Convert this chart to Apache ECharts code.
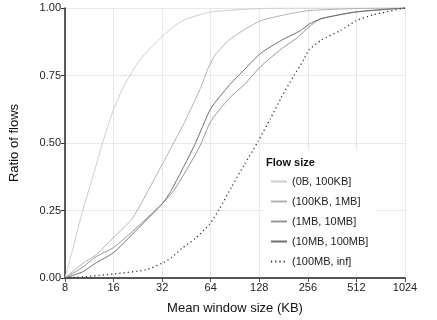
<!DOCTYPE html>
<html>
<head>
<meta charset="utf-8">
<script src="https://cdn.jsdelivr.net/npm/echarts@6/dist/echarts.min.js"></script>
<style>html,body{margin:0;padding:0;background:#fff}#c{width:437px;height:320px}</style>
</head>
<body>
<div id="c"></div>
<script>
// Series names (legend)
var seriesNames = ['(0B, 100KB]', '(100KB, 1MB]', '(1MB, 10MB]', '(10MB, 100MB]', '(100MB, inf]'];
var legendTitle = 'Flow size';
var xTitle = 'Mean window size (KB)';
var yTitle = 'Ratio of flows';

// (0B, 100KB]
var win1 = [8, 8.96, 10.3, 11.56, 14.0, 16, 18.7, 20.9, 23.4, 32, 39.6, 45.6, 64, 128, 256, 1024];
var ratio1 = [0, 0.11, 0.25, 0.35, 0.52, 0.625, 0.715, 0.765, 0.81, 0.895, 0.94, 0.96, 0.985, 0.998, 1, 1];
// (100KB, 1MB]
var win2 = [8, 10.3, 12.3, 16, 20.9, 29, 32, 44.3, 56.4, 61, 68, 82.6, 103.5, 131, 175, 256, 512, 1024];
var ratio2 = [0, 0.054, 0.083, 0.15, 0.22, 0.373, 0.42, 0.58, 0.715, 0.77, 0.825, 0.88, 0.92, 0.953, 0.972, 0.99, 0.998, 1];
// (1MB, 10MB]
var win3 = [8, 10.3, 12.3, 16, 20.9, 32, 37.9, 54, 64, 82.6, 103.5, 131, 175, 220, 260, 308, 512, 1024];
var ratio3 = [0, 0.04, 0.077, 0.113, 0.172, 0.275, 0.325, 0.48, 0.58, 0.663, 0.717, 0.784, 0.848, 0.89, 0.93, 0.96, 0.985, 1];
// (10MB, 100MB]
var win4 = [8, 10.3, 12.3, 16, 20.9, 32, 36.5, 51, 64, 82.6, 103.5, 131, 175, 232, 260, 308, 512, 1024];
var ratio4 = [0, 0.023, 0.054, 0.094, 0.162, 0.275, 0.325, 0.494, 0.627, 0.711, 0.772, 0.833, 0.88, 0.917, 0.94, 0.96, 0.986, 1];
// (100MB, inf]
var win5 = [8, 10.3, 16, 25.3, 32, 36.5, 42.5, 51, 63.1, 72.7, 86.1, 103.5, 126, 150, 174.6, 210, 242, 260, 308, 408, 512, 651, 1024];
var ratio5 = [0, 0.004, 0.015, 0.03, 0.055, 0.075, 0.11, 0.145, 0.2, 0.257, 0.337, 0.42, 0.507, 0.59, 0.667, 0.75, 0.81, 0.845, 0.88, 0.917, 0.953, 0.975, 1];

var wins = [win1, win2, win3, win4, win5];
var ratios = [ratio1, ratio2, ratio3, ratio4, ratio5];
var colors = ['#cdcdcd', '#b2b2b2', '#969696', '#6f6f6f', '#333333'];

function pairs(xs, ys) { return xs.map(function (x, i) { return [x, ys[i]]; }); }

var FONT = 'Liberation Sans';
var series = seriesNames.map(function (n, i) {
  return {
    name: n,
    type: 'line',
    data: pairs(wins[i], ratios[i]),
    symbol: 'none',
    smooth: 0.2,
    z: 2 + i,
    lineStyle: i === 4 ? { color: colors[i], width: 1.3, type: [1.2, 3] } : { color: colors[i], width: 1 },
    itemStyle: { color: colors[i] }
  };
});

var chart = echarts.init(document.getElementById('c'), null, { renderer: 'canvas' });
chart.setOption({
  animation: false,
  backgroundColor: '#fff',
  textStyle: { fontFamily: FONT },
  grid: { left: 62, right: 32, top: 8, bottom: 36, containLabel: false },
  title: {
    text: legendTitle, left: 266, top: 157, padding: 0, z: 10,
    textStyle: { fontFamily: FONT, fontSize: 11, fontWeight: 'bold', color: '#111' }
  },
  legend: {
    orient: 'vertical', left: 263, top: 150,
    padding: [25, 8, 3, 7],
    backgroundColor: '#fff',
    itemWidth: 16, itemHeight: 10, itemGap: 7,
    itemStyle: { opacity: 0 },
    textStyle: { fontFamily: FONT, fontSize: 11, color: '#222', lineHeight: 13 },
    data: seriesNames
  },
  xAxis: {
    type: 'log', logBase: 2, min: 8, max: 1024,
    name: xTitle, nameLocation: 'middle', nameGap: 24,
    nameTextStyle: { fontFamily: FONT, fontSize: 13, color: '#111' },
    axisLine: { show: true, lineStyle: { color: '#555', width: 2 } },
    axisTick: { show: true, length: 4, lineStyle: { color: '#555', width: 1 } },
    axisLabel: { fontFamily: FONT, fontSize: 11, color: '#222', margin: 4,
      formatter: function (v) { return String(Math.round(v)); } },
    splitLine: { show: true, lineStyle: { color: '#e8e8e8', width: 1 } },
    minorSplitLine: { show: false }
  },
  yAxis: {
    type: 'value', min: 0, max: 1, interval: 0.25,
    name: yTitle, nameLocation: 'middle', nameGap: 44,
    nameTextStyle: { fontFamily: FONT, fontSize: 13, color: '#111' },
    axisLine: { show: true, lineStyle: { color: '#333', width: 1.6 } },
    axisTick: { show: true, length: 4, lineStyle: { color: '#333', width: 1 } },
    axisLabel: { fontFamily: FONT, fontSize: 11, color: '#222', margin: 4,
      formatter: function (v) { return v.toFixed(2); } },
    splitLine: { show: true, lineStyle: { color: '#e8e8e8', width: 1 } }
  },
  series: series
});
</script>
</body>
</html>
